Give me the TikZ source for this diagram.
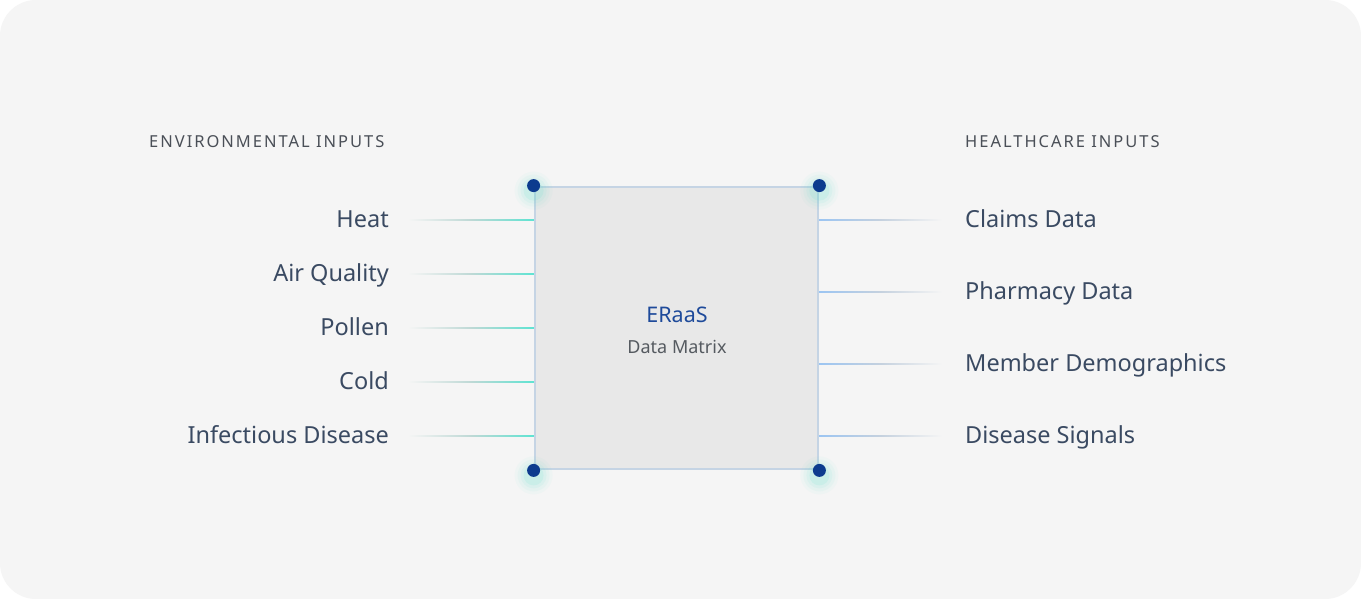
\documentclass[tikz,border=0pt]{standalone}
\usepackage{fontspec}
\setmainfont{Noto Sans}
\newfontfamily\hdrfont[LetterSpace=12]{Noto Sans}
\definecolor{bgpanel}{HTML}{F5F5F5}
\definecolor{boxfill}{HTML}{E8E8E8}
\definecolor{boxedge}{HTML}{C5D4E4}
\definecolor{dotblue}{HTML}{0D3B8E}
\definecolor{glowteal}{HTML}{4FE0C8}
\definecolor{labelc}{HTML}{3A4A62}
\definecolor{hdrc}{HTML}{4A4F57}
\definecolor{titleblue}{HTML}{1E4A9A}
\definecolor{subgray}{HTML}{555A60}
\definecolor{tealline}{HTML}{5EE3D2}
\definecolor{blueline}{HTML}{9CC5F2}
\definecolor{fadegray}{HTML}{D6D6D6}
\tikzset{
  lbl/.style={font=\fontsize{23.5}{28}\selectfont, text=labelc, inner sep=0pt},
  lbll/.style={lbl, anchor=base east},
  lblr/.style={lbl, anchor=base west},
  hdr/.style={font=\fontsize{16.5}{19}\selectfont\hdrfont, text=hdrc, inner sep=0pt, anchor=base west},
  cdot/.style={circle, fill=dotblue, minimum size=13pt, inner sep=0pt},
}
\begin{document}
\begin{tikzpicture}[x=1pt,y=-1pt]
\useasboundingbox (0,0) rectangle (1361,599);
\fill[white] (0,0) rectangle (1361,599);
\fill[bgpanel, rounded corners=36pt] (0,0) rectangle (1361,599);
% headers
\node[hdr] (henv) at (149,148) {ENVIRONMENTAL INPUTS};
\node[hdr] (hhc) at (965,148) {HEALTHCARE INPUTS};
% left lines
\foreach \y in {220,274,328,382,436}{
  \shade[left color=bgpanel, right color=tealline, middle color=fadegray!80!tealline] (408,\y-0.8) rectangle (534,\y+0.8);
}
% right lines
\foreach \y in {220,292,364,436}{
  \shade[left color=blueline, right color=bgpanel, middle color=fadegray!70!blueline] (819,\y-0.8) rectangle (942,\y+0.8);
}
% box
\node[draw=boxedge, line width=2.8pt, fill=boxfill, minimum width=283pt, minimum height=282pt, inner sep=0pt] (box) at (676.5,328) {};
\node[font=\fontsize{21.5}{25}\selectfont\bfseries, text=titleblue, inner sep=0pt, anchor=base] (title) at (677,322) {ERaaS};
\node[font=\fontsize{18}{21}\selectfont, text=subgray, inner sep=0pt, anchor=base] (sub) at (677,353) {Data Matrix};
% glows and dots
\foreach \c in {north west, north east, south west, south east}{
  \foreach \r/\o in {19/0.04,16/0.05,13/0.07,10/0.11}{
    \fill[glowteal, opacity=\o] ([yshift=-5pt]box.\c) circle (\r pt);
  }
  \node[cdot] at (box.\c) {};
}
% labels
\node[lbll] (heat) at (389,227) {Heat};
\node[lbll] (air) at (389,281.5) {Air Quality};
\node[lbll] (pollen) at (389,335.5) {Pollen};
\node[lbll] (cold) at (389,389.5) {Cold};
\node[lbll] (infect) at (389,443.5) {Infectious Disease};
\node[lblr] (claims) at (965,227) {Claims Data};
\node[lblr] (pharm) at (965,299.5) {Pharmacy Data};
\node[lblr] (member) at (965,371.5) {Member Demographics};
\node[lblr] (disease) at (965,443.5) {Disease Signals};
\end{tikzpicture}
\end{document}
